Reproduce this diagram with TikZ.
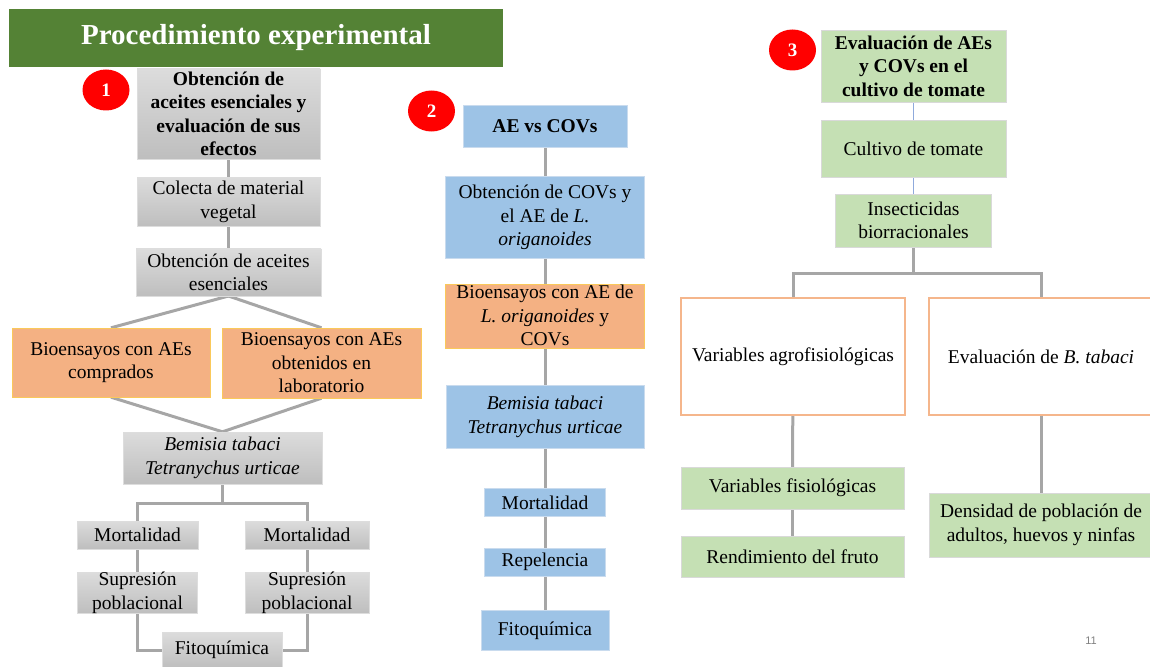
\documentclass[tikz,border=0pt]{standalone}
\usepackage{fontspec}
\setmainfont{Liberation Serif}
\newfontfamily\pagefont{Liberation Sans}
\usepackage{tikz}
\usetikzlibrary{shapes.geometric, positioning, calc, backgrounds}
\usepackage{xcolor}

\definecolor{titlegreen}{HTML}{548235}
\definecolor{badgered}{HTML}{FF0000}
\definecolor{graytop}{HTML}{DCDCDC}
\definecolor{graybot}{HTML}{BEBEBE}
\definecolor{grayline}{HTML}{DDDDDD}
\definecolor{boxblue}{HTML}{9DC3E6}
\definecolor{blueline}{HTML}{C9DBEE}
\definecolor{boxorange}{HTML}{F4B183}
\definecolor{orangeline}{HTML}{FAC95A}
\definecolor{boxgreen}{HTML}{C5E0B4}
\definecolor{greenline}{HTML}{D9D9D9}
\definecolor{outline}{HTML}{F5B68C}
\definecolor{linkgray}{HTML}{A6A6A6}
\definecolor{linkblue}{HTML}{8FAADC}

\begin{document}
\begin{tikzpicture}[
    x=1pt, y=-1pt,
    box/.style={rectangle, inner sep=0pt, align=center, font=\fontsize{19.5}{23.5}\selectfont},
    headfont/.style={font=\fontsize{19.5}{23.5}\selectfont\bfseries},
    wh/.style 2 args={minimum width=#1pt, minimum height=#2pt},
    graybox/.style={box, draw=grayline, top color=graytop, bottom color=graybot},
    bluebox/.style={box, draw=blueline, fill=boxblue},
    orangebox/.style={box, draw=orangeline, fill=boxorange},
    greenbox/.style={box, draw=greenline, fill=boxgreen},
    outbox/.style={box, draw=outline, line width=1.5pt, fill=white},
    titlebox/.style={rectangle, fill=titlegreen, text=white, minimum width=494pt, minimum height=58pt, font=\fontsize{29}{34}\selectfont\bfseries},
    badge/.style={ellipse, fill=badgered, text=white, inner sep=0pt, minimum width=47pt, minimum height=41pt, font=\fontsize{19}{22}\selectfont\bfseries},
    link/.style={draw=linkgray, line width=3pt},
    thinlink/.style={draw=linkblue, line width=1pt}
]
    \useasboundingbox (0,0) rectangle (1150,666);

    % Title and numbers
    \node[titlebox] (title) at (256,38) {Procedimiento experimental};
    \node[badge] (badge1) at (106,90) {1};
    \node[badge] (badge2) at (431.5,111) {2};
    \node[badge] (badge3) at (792.5,50) {3};

    % Column 1
    \node[graybox, headfont, wh={183}{90}] (obtencion) at (228.5,114) {Obtención de\\aceites esenciales y\\evaluación de sus\\efectos};
    \node[graybox, wh={183}{49}, below=18pt of obtencion] (colecta) {Colecta de material\\vegetal};
    \node[graybox, wh={185}{47}, below=22pt of colecta] (aceites) {Obtención de aceites\\esenciales};
    \node[orangebox, wh={198}{69}] (biocomp) at (111,362.5) {Bioensayos con AEs\\comprados};
    \node[orangebox, wh={199}{70}] (biolab) at (321.5,363) {Bioensayos con AEs\\obtenidos en\\laboratorio};
    \node[graybox, wh={199}{52}] (bemisiaA) at (222.5,458) {\textit{Bemisia tabaci}\\\textit{Tetranychus urticae}};
    \node[graybox, wh={121}{28}] (mortA) at (137.5,535) {Mortalidad};
    \node[graybox, wh={124}{28}] (mortB) at (307,535) {Mortalidad};
    \node[graybox, wh={120}{41}, below=23pt of mortA] (supA) {Supresión\\poblacional};
    \node[graybox, wh={124}{41}, below=23pt of mortB] (supB) {Supresión\\poblacional};
    \node[graybox, wh={120}{36}] (fitoA) at (222,650) {Fitoquímica};

    % Column 2
    \node[bluebox, headfont, wh={164}{42}] (aevs) at (545,126) {AE vs COVs};
    \node[bluebox, wh={199}{82}, below=29pt of aevs] (covs) {Obtención de COVs y\\el AE de \textit{L.}\\\textit{origanoides}};
    \node[orangebox, wh={199}{64}, below=25pt of covs] (biocovs) {Bioensayos con AE de\\\textit{L. origanoides} y\\COVs};
    \node[bluebox, wh={198}{63}, below=37pt of biocovs] (bemisiaB) {\textit{Bemisia tabaci}\\\textit{Tetranychus urticae}};
    \node[bluebox, wh={121}{28}, below=40pt of bemisiaB] (mortC) {Mortalidad};
    \node[bluebox, wh={121}{28}, below=31pt of mortC] (repel) {Repelencia};
    \node[bluebox, wh={128}{40}, below=34pt of repel] (fitoB) {Fitoquímica};

    % Column 3
    \node[greenbox, headfont, wh={185}{72}] (evalaes) at (913.5,66) {Evaluación de AEs\\y COVs en el\\cultivo de tomate};
    \node[greenbox, wh={185}{57}, below=18pt of evalaes] (cultivo) {Cultivo de tomate};
    \node[greenbox, wh={156}{53}, below=16pt of cultivo] (insect) {Insecticidas\\biorracionales};
    \node[outbox, wh={224}{117}] (agro) at (793,356.5) {Variables agrofisiológicas};
    \node[outbox, wh={224}{117}] (btabaci) at (1041,356.5) {Evaluación de \textit{B. tabaci}};
    \node[greenbox, wh={223}{42}] (fisio) at (792.5,488) {Variables fisiológicas};
    \node[greenbox, wh={223}{41}, below=27pt of fisio] (rend) {Rendimiento del fruto};
    \node[greenbox, wh={224}{64}] (densidad) at (1041,525) {Densidad de población de\\adultos, huevos y ninfas};

    \node[text=gray, font=\fontsize{11}{13}\pagefont] (pagenum) at (1091,641) {11};

    % Connectors
    \begin{scope}[on background layer]
        \draw[link] (obtencion) -- (colecta);
        \draw[link] (colecta) -- (aceites);
        \draw[link] (aceites.south) -- (biocomp.north);
        \draw[link] (aceites.south) -- (biolab.north);
        \draw[link] (biocomp.south) -- (bemisiaA.north);
        \draw[link] (biolab.south) -- (bemisiaA.north);
        \coordinate (splitA) at ($(bemisiaA.south)+(0,19)$);
        \draw[link] (bemisiaA.south) -- (splitA);
        \draw[link] (mortA.north) |- (splitA) -| (mortB.north);
        \draw[link] (mortA) -- (supA);
        \draw[link] (mortB) -- (supB);
        \draw[link] (supA.south) |- (fitoA.west);
        \draw[link] (supB.south) |- (fitoA.east);

        \draw[link] (aevs) -- (covs);
        \draw[link] (covs) -- (biocovs);
        \draw[link] (biocovs) -- (bemisiaB);
        \draw[link] (bemisiaB) -- (mortC);
        \draw[link] (mortC) -- (repel);
        \draw[link] (repel) -- (fitoB);

        \draw[thinlink] (evalaes) -- (cultivo);
        \draw[thinlink] (cultivo) -- (insect);
        \coordinate (splitC) at ($(insect.south)+(0,26)$);
        \draw[link] (insect.south) -- (splitC);
        \draw[link] (agro.north) |- (splitC) -| (btabaci.north);
        \draw[link] (agro) -- (fisio);
        \draw[link] (fisio) -- (rend);
        \draw[link] (btabaci) -- (densidad);
    \end{scope}
\end{tikzpicture}
\end{document}
